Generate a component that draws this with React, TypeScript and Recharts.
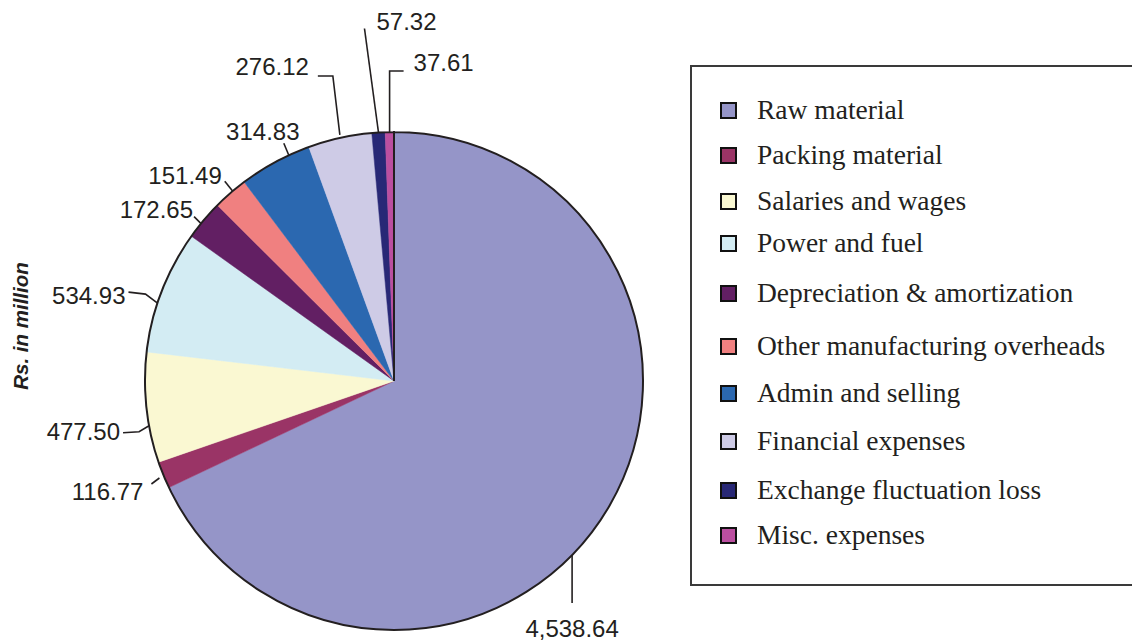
import { PieChart, Pie, Cell, Legend } from 'recharts';

// Cost heads and amounts (Rs. in million)
const categories = [
  'Raw material',
  'Packing material',
  'Salaries and wages',
  'Power and fuel',
  'Depreciation & amortization',
  'Other manufacturing overheads',
  'Admin and selling',
  'Financial expenses',
  'Exchange fluctuation loss',
  'Misc. expenses',
];
const amounts = [4538.64, 116.77, 477.5, 534.93, 172.65, 151.49, 314.83, 276.12, 57.32, 37.61];
const valueLabels = ['4,538.64', '116.77', '477.50', '534.93', '172.65', '151.49', '314.83', '276.12', '57.32', '37.61'];

const colors = [
  '#9595c8',
  '#9a3466',
  '#faf8d2',
  '#d3ecf3',
  '#621f63',
  '#f08080',
  '#2b68b0',
  '#cecbe6',
  '#282876',
  '#bb4fa0',
];

const data = categories.map((name, i) => ({ name, value: amounts[i] }));

// Leader line shape per slice: the anchor angle is nudged by `shift` degrees (clockwise),
// then the line runs through `path` offsets and the value text sits at (tx, ty).
type LabelLayout = {
  shift: number;
  path: number[][];
  tx: number;
  ty: number;
  anchor: 'start' | 'middle' | 'end';
};
const labelLayout: LabelLayout[] = [
  { shift: 12, path: [[0, 0], [0, 48]], tx: 0, ty: 73, anchor: 'middle' },
  { shift: 0, path: [[-4, 3], [-12, 9]], tx: -20, ty: 17, anchor: 'end' },
  { shift: -4.2, path: [[0, 0], [-10, 6], [-26, 7]], tx: -29, ty: 6, anchor: 'end' },
  { shift: -2.9, path: [[0, 0], [-12, -9], [-29, -11]], tx: -32, ty: -8, anchor: 'end' },
  { shift: -1, path: [[0, 0], [-7, -7]], tx: -8, ty: -14, anchor: 'end' },
  { shift: 0.7, path: [[0, 0], [-8, -10]], tx: -11, ty: -16, anchor: 'end' },
  { shift: 3.5, path: [[0, 0], [-5, -12]], tx: -26, ty: -24, anchor: 'middle' },
  { shift: 0, path: [[0, -3], [-7, -62], [-22, -62]], tx: -31, ty: -71, anchor: 'end' },
  { shift: 0, path: [[0, 0], [-14, -104]], tx: -2, ty: -111, anchor: 'start' },
  { shift: 0, path: [[0, 0], [0, -61], [14, -61]], tx: 24, ty: -70, anchor: 'start' },
];

// vertical centre of each legend row, measured from the top of the legend box
const legendRowY = [45, 90, 136, 178, 228, 281, 328, 376, 425, 470];

const RAD = Math.PI / 180;
const INK = '#231f20';

function renderValueLabel(props: any) {
  const { cx, cy, midAngle, outerRadius, index } = props;
  const lay = labelLayout[index];
  const angle = midAngle - lay.shift;
  const ax = cx + outerRadius * Math.cos(-angle * RAD);
  const ay = cy + outerRadius * Math.sin(-angle * RAD);
  const points = lay.path.map(([dx, dy]) => `${ax + dx},${ay + dy}`).join(' ');
  return (
    <g key={`lbl-${index}`}>
      <polyline points={points} fill="none" stroke={INK} strokeWidth={1.6} />
      <text
        x={ax + lay.tx}
        y={ay + lay.ty + 8.5}
        textAnchor={lay.anchor}
        fontFamily="'Liberation Sans', Arial, sans-serif"
        fontSize={24}
        fill={INK}
      >
        {valueLabels[index]}
      </text>
    </g>
  );
}

function LegendBox() {
  return (
    <div
      style={{
        position: 'relative',
        width: 460,
        height: 517,
        border: '2px solid #3a3a3a',
        background: '#fff',
        fontFamily: "'Liberation Serif', 'Times New Roman', serif",
        fontSize: 27.5,
        color: INK,
      }}
    >
      {categories.map((name, i) => (
        <div
          key={name}
          style={{
            position: 'absolute',
            left: 28,
            top: legendRowY[i] - 2 - 16,
            height: 32,
            display: 'flex',
            alignItems: 'center',
            whiteSpace: 'nowrap',
          }}
        >
          <span
            style={{
              display: 'inline-block',
              width: 13,
              height: 13,
              border: '2px solid #111',
              background: colors[i],
              marginRight: 20,
            }}
          />
          <span>{name}</span>
        </div>
      ))}
    </div>
  );
}

export default function App() {
  return (
    <div style={{ position: 'absolute', left: 0, top: 0, width: 1132, height: 643, background: '#fff', overflow: 'hidden' }}>
      <PieChart width={1132} height={643} margin={{ top: 0, right: 0, bottom: 0, left: 0 }}>
        <Pie
          data={data}
          dataKey="value"
          nameKey="name"
          cx={394}
          cy={381}
          outerRadius={249}
          startAngle={90}
          endAngle={-270}
          label={renderValueLabel}
          labelLine={false}
          isAnimationActive={false}
        >
          {data.map((d, i) => (
            <Cell key={d.name} fill={colors[i]} stroke={colors[i]} strokeWidth={0.5} />
          ))}
        </Pie>
        <Pie
          data={[{ name: 'outline', value: 1 }]}
          dataKey="value"
          cx={394}
          cy={381}
          outerRadius={249}
          startAngle={90}
          endAngle={-270}
          fill="none"
          stroke={INK}
          strokeWidth={2}
          legendType="none"
          isAnimationActive={false}
        />
        <Legend
          content={() => <LegendBox />}
          wrapperStyle={{ position: 'absolute', left: 690, top: 65, width: 470 }}
        />
        <text
          x={0}
          y={0}
          transform="translate(28 326) rotate(-90)"
          textAnchor="middle"
          fontFamily="'Liberation Sans', Arial, sans-serif"
          fontWeight="bold"
          fontStyle="italic"
          fontSize={20.5}
          fill={INK}
        >
          Rs. in million
        </text>
      </PieChart>
    </div>
  );
}
